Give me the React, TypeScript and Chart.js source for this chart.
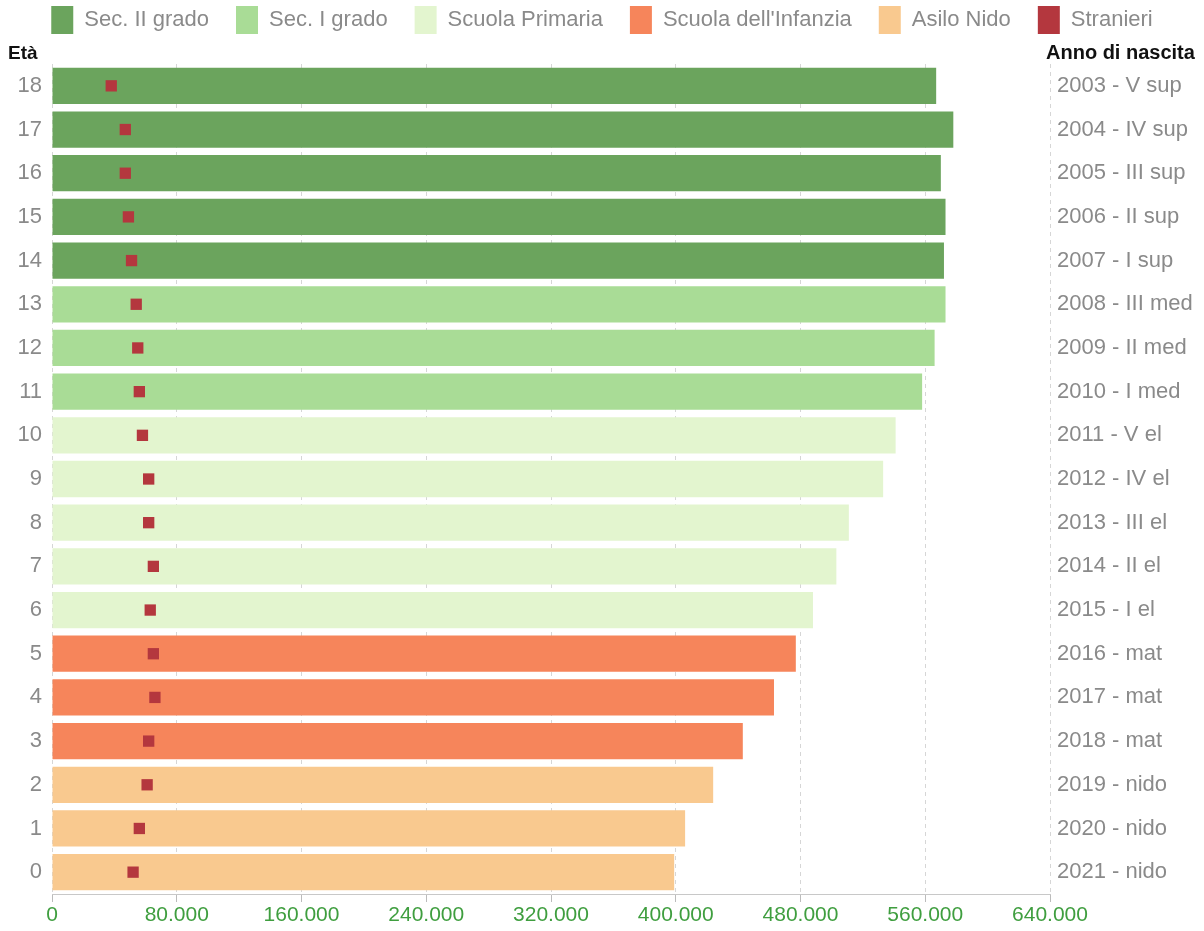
import React, { useEffect, useRef } from 'react';
import { Chart, registerables } from 'chart.js';

Chart.register(...registerables);

const FONT = "'Liberation Sans', Arial, sans-serif";

// Ages, top to bottom
const ages = ['18', '17', '16', '15', '14', '13', '12', '11', '10', '9', '8', '7', '6', '5', '4', '3', '2', '1', '0'];
const birthLabels = [
  '2003 - V sup', '2004 - IV sup', '2005 - III sup', '2006 - II sup', '2007 - I sup',
  '2008 - III med', '2009 - II med', '2010 - I med',
  '2011 - V el', '2012 - IV el', '2013 - III el', '2014 - II el', '2015 - I el',
  '2016 - mat', '2017 - mat', '2018 - mat',
  '2019 - nido', '2020 - nido', '2021 - nido',
];
const rowLevel = [
  'Sec. II grado', 'Sec. II grado', 'Sec. II grado', 'Sec. II grado', 'Sec. II grado',
  'Sec. I grado', 'Sec. I grado', 'Sec. I grado',
  'Scuola Primaria', 'Scuola Primaria', 'Scuola Primaria', 'Scuola Primaria', 'Scuola Primaria',
  "Scuola dell'Infanzia", "Scuola dell'Infanzia", "Scuola dell'Infanzia",
  'Asilo Nido', 'Asilo Nido', 'Asilo Nido',
];
const totals = [
  567000, 578000, 570000, 573000, 572000,
  573000, 566000, 558000,
  541000, 533000, 511000, 503000, 488000,
  477000, 463000, 443000,
  424000, 406000, 399000,
];
const stranieri = [
  38000, 47000, 47000, 49000, 51000,
  54000, 55000, 56000,
  58000, 62000, 62000, 65000, 63000,
  65000, 66000, 62000,
  61000, 56000, 52000,
];
const levels = ['Sec. II grado', 'Sec. I grado', 'Scuola Primaria', "Scuola dell'Infanzia", 'Asilo Nido'];
const levelColors = ['#6ba45d', '#a9dc96', '#e3f5cf', '#f6855b', '#f9c98f'];
const stranieriColor = '#b4373e';
const xTicks = [0, 80000, 160000, 240000, 320000, 400000, 480000, 560000, 640000];

const fmt = (v: number) => String(v).replace(/\B(?=(\d{3})+(?!\d))/g, '.');

const titlesPlugin = {
  id: 'axisTitles',
  afterDraw(chart: any) {
    const { ctx, chartArea } = chart;
    ctx.save();
    ctx.fillStyle = '#111';
    ctx.textBaseline = 'bottom';
    ctx.textAlign = 'left';
    ctx.font = `bold 19px ${FONT}`;
    ctx.fillText('Età', 8, chartArea.top - 1);
    ctx.font = `bold 20px ${FONT}`;
    ctx.fillText('Anno di nascita', chartArea.right - 4, chartArea.top - 1);
    ctx.restore();
  },
};

const legendHeightPlugin = {
  id: 'legendHeight',
  beforeUpdate(chart: any) {
    const lg = chart.legend;
    if (lg && !lg._patched) {
      const orig = lg.fit;
      lg.fit = function () {
        orig.call(this);
        this.height = 85;
      };
      lg._patched = true;
    }
  },
};

export default function App() {
  const ref = useRef<HTMLCanvasElement>(null);
  useEffect(() => {
    if (!ref.current) return;
    const barSets = levels.map((lv, i) => ({
      type: 'bar' as const,
      label: lv,
      data: totals.map((v, r) => (rowLevel[r] === lv ? v : null)),
      backgroundColor: levelColors[i],
      borderWidth: 0,
      grouped: false,
      categoryPercentage: 1,
      barPercentage: 0.83,
      order: 2,
    }));
    const chart = new Chart(ref.current, {
      type: 'bar',
      data: {
        labels: ages,
        datasets: [
          ...barSets,
          {
            type: 'line' as const,
            label: 'Stranieri',
            data: stranieri,
            indexAxis: 'y',
            showLine: false,
            pointStyle: 'rect',
            pointRadius: 8,
            pointHoverRadius: 8,
            backgroundColor: stranieriColor,
            borderColor: stranieriColor,
            borderWidth: 0,
            order: 1,
          } as any,
        ],
      },
      options: {
        indexAxis: 'y',
        animation: false,
        responsive: false,
        layout: { padding: { top: -21, left: 0, right: 0, bottom: 0 } },
        plugins: {
          tooltip: { enabled: false },
          legend: {
            position: 'top',
            labels: {
              boxWidth: 22,
              boxHeight: 28,
              padding: 27,
              color: '#8a8a8a',
              font: { family: FONT, size: 22 },
              sort: (a: any, b: any) => a.datasetIndex - b.datasetIndex,
            },
          },
        },
        scales: {
          x: {
            type: 'linear',
            min: 0,
            max: 640000,
            afterBuildTicks: (s: any) => {
              s.ticks = xTicks.map((v) => ({ value: v }));
            },
            afterFit: (s: any) => {
              s.height = 37;
            },
            ticks: {
              color: '#3f9e3f',
              font: { family: FONT, size: 21 },
              padding: 1,
              callback: (v: any) => fmt(Number(v)),
            },
            grid: { color: '#d6d6d6', tickLength: 8, tickColor: '#bbb' },
            border: { display: true, color: '#c8c8c8', dash: [4, 4] },
          },
          y: {
            type: 'category',
            position: 'left',
            offset: true,
            afterFit: (s: any) => {
              s.width = 52;
            },
            grid: { display: false, drawTicks: false },
            border: { display: false },
            ticks: { color: '#8a8a8a', font: { family: FONT, size: 22 }, padding: 10 },
          },
          y2: {
            type: 'category',
            position: 'right',
            labels: birthLabels,
            offset: true,
            afterFit: (s: any) => {
              s.width = 154;
            },
            grid: { display: false, drawTicks: false },
            border: { display: false },
            ticks: { color: '#8a8a8a', font: { family: FONT, size: 22 }, padding: 7 },
          },
        },
      } as any,
      plugins: [legendHeightPlugin, titlesPlugin],
    });
    return () => chart.destroy();
  }, []);
  return (
    <div style={{ position: 'absolute', left: 0, top: 0, width: 1204, height: 931, background: '#fff' }}>
      <canvas ref={ref} width={1204} height={931} />
    </div>
  );
}
